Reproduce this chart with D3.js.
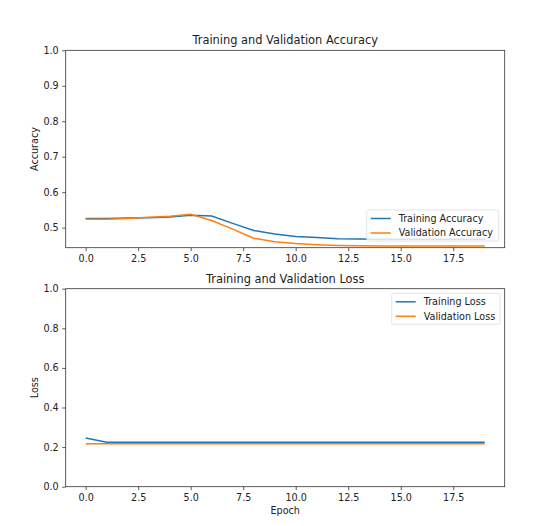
<!DOCTYPE html>
<html>
<head>
<meta charset="utf-8">
<script src="https://cdn.jsdelivr.net/npm/d3@7"></script>
<style>
  body { margin: 0; background: #fff; }
  text { font-family: "DejaVu Sans", sans-serif; fill: #222; }
</style>
</head>
<body>
<div id="chart"></div>
<script>
// values
let epochs = d3.range(0, 20);
let trainAcc = [0.526, 0.526, 0.527, 0.528, 0.530, 0.535, 0.533, 0.512, 0.492, 0.482,
                0.475, 0.472, 0.469, 0.468, 0.467, 0.467, 0.467, 0.467, 0.467, 0.467];
let valAcc = [0.5235, 0.524, 0.526, 0.529, 0.532, 0.538, 0.520, 0.496, 0.470, 0.460,
              0.455, 0.452, 0.450, 0.449, 0.448, 0.448, 0.448, 0.448, 0.448, 0.448];
let trainLoss = [0.246, 0.224, 0.224, 0.224, 0.224, 0.224, 0.224, 0.224, 0.224, 0.224,
                 0.224, 0.224, 0.224, 0.224, 0.224, 0.224, 0.224, 0.224, 0.224, 0.224];
let valLoss = [0.217, 0.217, 0.217, 0.217, 0.217, 0.217, 0.217, 0.217, 0.217, 0.217,
               0.217, 0.217, 0.217, 0.217, 0.217, 0.217, 0.217, 0.217, 0.217, 0.217];
let xTicks = [0, 2.5, 5, 7.5, 10, 12.5, 15, 17.5];
let accTicks = [0.5, 0.6, 0.7, 0.8, 0.9, 1.0];
let lossTicks = [0, 0.2, 0.4, 0.6, 0.8, 1.0];

let width = 540, height = 526;
let svg = d3.select("#chart").append("svg")
  .attr("width", width)
  .attr("height", height);

let blue = "#1f77b4", orange = "#ff7f0e";
let tickFont = 9.6;

// one subplot: box, ticks, lines, legend
function drawPanel(opts) {
  let x = d3.scaleLinear().domain([-0.95, 19.95]).range([opts.left, opts.right]);
  let y = d3.scaleLinear().domain(opts.yDomain).range([opts.bottom, opts.top]);
  let g = svg.append("g");

  let line = d3.line().x((d, i) => x(epochs[i])).y(d => y(d));
  opts.series.forEach(s => {
    g.append("path")
      .attr("d", line(s.values))
      .attr("fill", "none")
      .attr("stroke", s.color)
      .attr("stroke-width", 1.5);
  });

  // axes
  let xAxis = g.append("g")
    .attr("transform", "translate(0," + opts.bottom + ")")
    .call(d3.axisBottom(x).tickValues(xTicks).tickSizeOuter(0).tickSize(3.5).tickPadding(3.5)
      .tickFormat(d3.format(".1f")));
  let yAxis = g.append("g")
    .attr("transform", "translate(" + opts.left + ",0)")
    .call(d3.axisLeft(y).tickValues(opts.yTicks).tickSizeOuter(0).tickSize(3.5).tickPadding(3.5)
      .tickFormat(d3.format(".1f")));
  [xAxis, yAxis].forEach(a => {
    a.select(".domain").remove();
    a.selectAll("line").attr("stroke", "#333").attr("stroke-width", 0.8);
    a.selectAll("text").attr("font-size", tickFont).attr("font-family", "DejaVu Sans").attr("fill", "#222");
  });

  g.append("rect")
    .attr("x", opts.left)
    .attr("y", opts.top)
    .attr("width", opts.right - opts.left)
    .attr("height", opts.bottom - opts.top)
    .attr("fill", "none")
    .attr("stroke", "#333")
    .attr("stroke-width", 0.8);

  // title and y label
  g.append("text")
    .attr("x", (opts.left + opts.right) / 2)
    .attr("y", opts.top - 6)
    .attr("text-anchor", "middle")
    .attr("font-size", 11.4)
    .text(opts.title);
  g.append("text")
    .attr("transform", "translate(38," + (opts.top + opts.bottom) / 2 + ") rotate(-90)")
    .attr("text-anchor", "middle")
    .attr("font-size", tickFont)
    .text(opts.yLabel);

  // legend
  let lg = opts.legend;
  g.append("rect")
    .attr("x", lg.x).attr("y", lg.y)
    .attr("width", lg.w).attr("height", lg.h)
    .attr("rx", 2)
    .attr("fill", "#fff").attr("fill-opacity", 0.8)
    .attr("stroke", "#ddd").attr("stroke-width", 0.8);
  opts.series.forEach((s, i) => {
    let cy = lg.y + 8.5 + i * 14.5;
    g.append("line")
      .attr("x1", lg.x + 4).attr("x2", lg.x + 24)
      .attr("y1", cy).attr("y2", cy)
      .attr("stroke", s.color).attr("stroke-width", 1.5);
    g.append("text")
      .attr("x", lg.x + 32)
      .attr("y", cy)
      .attr("dy", "0.35em")
      .attr("font-size", tickFont)
      .text(s.name);
  });
}

drawPanel({
  left: 65.7, right: 504.7, top: 50.3, bottom: 247.7,
  yDomain: [0.4435, 1.0], yTicks: accTicks,
  title: "Training and Validation Accuracy", yLabel: "Accuracy",
  series: [
    { name: "Training Accuracy", values: trainAcc, color: blue },
    { name: "Validation Accuracy", values: valAcc, color: orange }
  ],
  legend: { x: 366.7, y: 210, w: 132, h: 31 }
});

drawPanel({
  left: 65.7, right: 504.7, top: 288.7, bottom: 486.7,
  yDomain: [0, 1.0], yTicks: lossTicks,
  title: "Training and Validation Loss", yLabel: "Loss",
  series: [
    { name: "Training Loss", values: trainLoss, color: blue },
    { name: "Validation Loss", values: valLoss, color: orange }
  ],
  legend: { x: 391.7, y: 293.3, w: 108.3, h: 31 }
});

svg.append("text")
  .attr("x", (65.7 + 504.7) / 2)
  .attr("y", 514)
  .attr("text-anchor", "middle")
  .attr("font-size", tickFont)
  .text("Epoch");
</script>
</body>
</html>
